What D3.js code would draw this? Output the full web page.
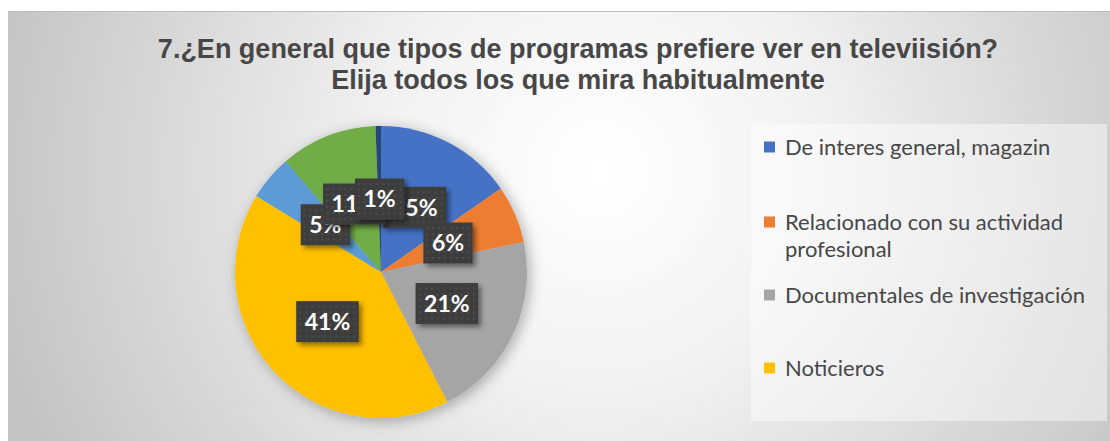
<!DOCTYPE html>
<html>
<head>
<meta charset="utf-8">
<script src="https://cdn.jsdelivr.net/npm/d3@7"></script>
<style>
  html, body { margin: 0; padding: 0; background: #ffffff; }
  svg { display: block; }
</style>
</head>
<body>
<svg id="chart" width="1110" height="441"></svg>
<script>
// ---- data ----
const titleLines = [
  "7.¿En general que tipos de programas prefiere ver en televiisión?",
  "Elija todos los que mira habitualmente"
];
const categories = [
  "De interes general, magazin",
  "Relacionado con su actividad profesional",
  "Documentales de investigación",
  "Noticieros",
  "Deportivos",
  "Entretenimiento",
  "Otros"
];
const values = [15.3, 6.4, 20.8, 41.2, 5.0, 10.7, 0.6];
const colors = ["#4472C4", "#ED7D31", "#A5A5A5", "#FFC000", "#5B9BD5", "#70AD47", "#264478"];
const legendLines = [
  ["De interes general, magazin"],
  ["Relacionado con su actividad", "profesional"],
  ["Documentales de investigación"],
  ["Noticieros"]
];

// ---- layout ----
const svg = d3.select("#chart");
const defs = svg.append("defs");

const bg = defs.append("radialGradient").attr("id", "bgGrad")
  .attr("gradientUnits", "userSpaceOnUse")
  .attr("cx", 600).attr("cy", 170).attr("r", 620);
bg.append("stop").attr("offset", "0%").attr("stop-color", "#ffffff");
bg.append("stop").attr("offset", "35%").attr("stop-color", "#f2f2f2");
bg.append("stop").attr("offset", "100%").attr("stop-color", "#c4c4c4");

const dots = defs.append("pattern").attr("id", "dots")
  .attr("patternUnits", "userSpaceOnUse").attr("width", 6).attr("height", 6);
dots.append("rect").attr("width", 6).attr("height", 6).attr("fill", "#3d3d3d");
dots.append("rect").attr("x", 2).attr("y", 2).attr("width", 2).attr("height", 2).attr("fill", "#4e4e4e");

const pieShadow = defs.append("filter").attr("id", "pieShadow")
  .attr("x", "-20%").attr("y", "-20%").attr("width", "140%").attr("height", "140%");
pieShadow.append("feDropShadow").attr("dx", 3).attr("dy", 3).attr("stdDeviation", 7)
  .attr("flood-color", "#000").attr("flood-opacity", 0.3);

const boxShadow = defs.append("filter").attr("id", "boxShadow")
  .attr("x", "-30%").attr("y", "-30%").attr("width", "160%").attr("height", "160%");
boxShadow.append("feDropShadow").attr("dx", 3).attr("dy", 3).attr("stdDeviation", 2.5)
  .attr("flood-color", "#000").attr("flood-opacity", 0.45);

// chart area background
svg.append("rect").attr("x", 8).attr("y", 11).attr("width", 1110).attr("height", 440)
  .attr("fill", "url(#bgGrad)");
svg.append("line").attr("x1", 8).attr("x2", 1110).attr("y1", 11.5).attr("y2", 11.5)
  .attr("stroke", "#bdbdbd").attr("stroke-width", 1);

// title
const title = svg.append("text")
  .attr("text-anchor", "middle")
  .attr("font-family", "'Liberation Sans', Arial, sans-serif")
  .attr("font-weight", "bold").attr("font-size", 27)
  .attr("fill", "#474747");
titleLines.forEach((t, i) => {
  title.append("tspan").attr("x", 578).attr("y", 58 + i * 31).text(t);
});

// pie
const cx = 381, cy = 272, R = 146;
const pie = d3.pie().sort(null).value(d => d)
  .startAngle(0).endAngle(2 * Math.PI);
const arcs = pie(values);
const arc = d3.arc().innerRadius(0).outerRadius(R);
const color = d3.scaleOrdinal().domain(categories).range(colors);

const g = svg.append("g").attr("transform", `translate(${cx},${cy})`);
const sliceG = g.append("g").attr("filter", "url(#pieShadow)");
sliceG.selectAll("path").data(arcs).enter().append("path")
  .attr("d", arc)
  .attr("fill", (d, i) => color(categories[i]));

// data labels
const fmt = d3.format(".0f");
const labelG = g.append("g");
arcs.forEach((d, i) => {
  const [lx, ly] = arc.centroid(d);
  const lg = labelG.append("g").attr("transform", `translate(${lx},${ly})`);
  const rect = lg.append("rect").attr("fill", "url(#dots)").attr("filter", "url(#boxShadow)");
  const txt = lg.append("text")
    .attr("text-anchor", "middle")
    .attr("font-family", "Lato, 'Open Sans', sans-serif")
    .attr("font-weight", "bold").attr("font-size", 23)
    .attr("fill", "#ffffff")
    .attr("y", 8.3)
    .text(fmt(d.data) + "%");
  const w = txt.node().getComputedTextLength() + 17;
  const h = 41;
  rect.attr("x", -w / 2).attr("y", -h / 2).attr("width", w).attr("height", h);
});

// legend
const legX = 751, legY = 124, legW = 356, legH = 297;
svg.append("rect").attr("x", legX).attr("y", legY).attr("width", legW).attr("height", legH)
  .attr("fill", "#ffffff").attr("fill-opacity", 0.45);
const legRowY = [147, 222, 295, 368];
legendLines.forEach((lines, i) => {
  const y = legRowY[i];
  svg.append("rect").attr("x", 764).attr("y", y - 5.5).attr("width", 11).attr("height", 11)
    .attr("fill", color(categories[i]));
  const t = svg.append("text")
    .attr("font-family", "Lato, 'Open Sans', sans-serif")
    .attr("font-size", 22).attr("fill", "#474747");
  lines.forEach((ln, j) => {
    t.append("tspan").attr("x", 785).attr("y", y + 7.5 + j * 27).text(ln);
  });
});
</script>
</body>
</html>
